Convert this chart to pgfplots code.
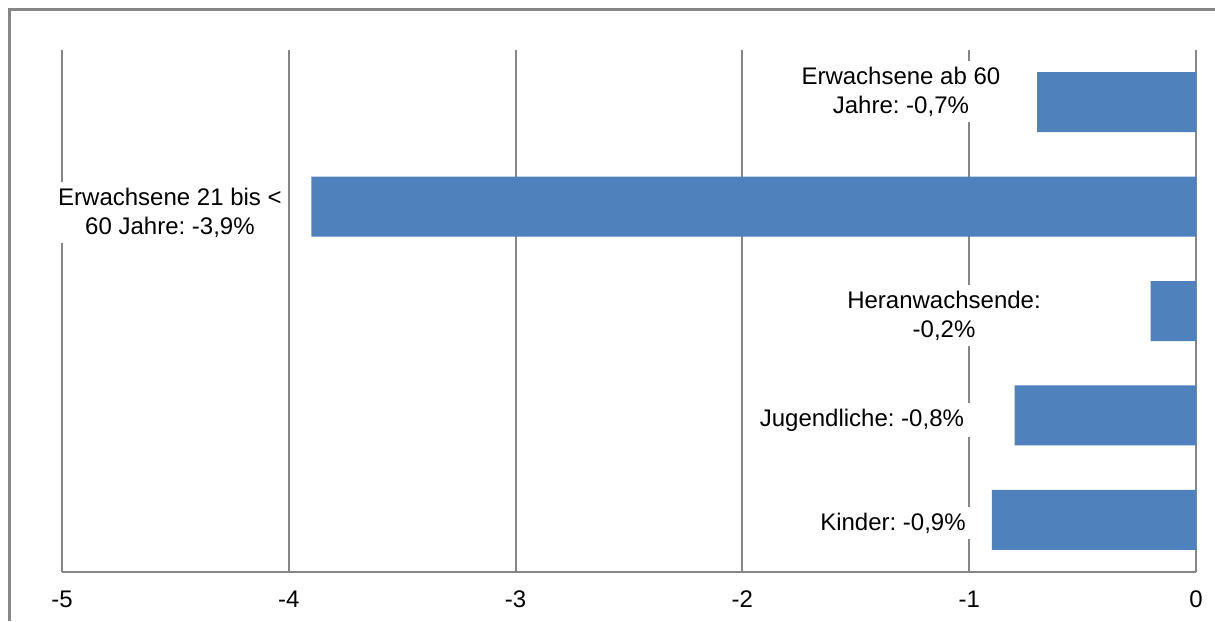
\documentclass[border=0pt]{standalone}
\usepackage{pgfplots}
\pgfplotsset{compat=1.18}
\usepackage{fontspec}
\setmainfont{Liberation Sans}
\frenchspacing
\definecolor{barblue}{HTML}{4F81BD}
\definecolor{gridgray}{RGB}{134,134,134}
\begin{document}
\begin{tikzpicture}[x=1pt,y=1pt]
\useasboundingbox (0,0) rectangle (607.5,310.5);
\draw[gridgray, line width=1.2pt, line cap=butt] (4.8,0) -- (4.8,305.8) -- (607.5,305.8);
\begin{axis}[
  at={(31pt,24.5pt)}, anchor=south west,
  scale only axis, width=567pt, height=261pt,
  xbar, bar width=30pt,
  xmin=-5, xmax=0, ymin=0.5, ymax=5.5,
  axis x line=bottom, axis y line=right,
  axis line style={gridgray, line width=1pt, -},
  xtick={-5,-4,-3,-2,-1,0},
  xticklabels={-5,-4,-3,-2,-1,0},
  ytick=\empty,
  major tick length=0pt,
  xmajorgrids, grid style={gridgray, line width=1pt},
  xticklabel style={font=\fontsize{12}{14.5}\selectfont, yshift=-6pt},
  clip=false,
]
\addplot[fill=barblue, draw=none] coordinates {(-0.9,1) (-0.8,2) (-0.2,3) (-3.9,4) (-0.7,5)};
\begin{scope}[every node/.style={fill=white, align=center, inner sep=3pt, font=\fontsize{12}{14.5}\selectfont}]
\node at (axis cs:-1.301,5.10) {Erwachsene ab 60\\Jahre: -0,7\%};
\node at (axis cs:-4.524,3.944) {Erwachsene 21 bis <\\60 Jahre: -3,9\%};
\node at (axis cs:-1.111,2.957) {Heranwachsende:\\-0,2\%};
\node at (axis cs:-1.473,1.956) {Jugendliche: -0,8\%};
\node at (axis cs:-1.336,0.969) {Kinder: -0,9\%};
\end{scope}
\end{axis}
\end{tikzpicture}
\end{document}
